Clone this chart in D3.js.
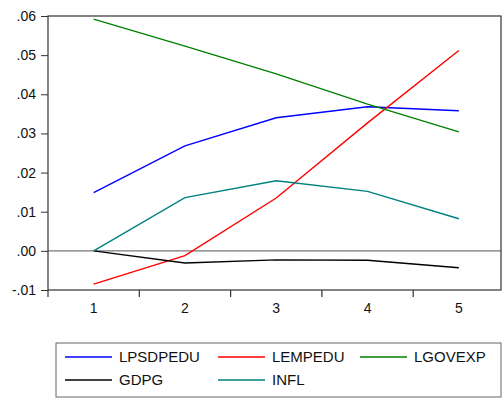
<!DOCTYPE html>
<html>
<head>
<meta charset="utf-8">
<script src="https://cdn.jsdelivr.net/npm/d3@7"></script>
<style>
  body { margin: 0; background: #fff; }
  svg { display: block; font-family: Arial, "Liberation Sans", sans-serif; }
</style>
</head>
<body>
<div id="chart"></div>
<script>
// periods and series
const periods = [1, 2, 3, 4, 5];
const lpsdpedu = [0.0149, 0.0268, 0.0340, 0.0368, 0.0358];
const lempedu = [-0.0085, -0.0012, 0.0135, 0.0327, 0.0512];
const lgovexp = [0.0592, 0.0523, 0.0452, 0.0375, 0.0304];
const gdpg = [0.0000, -0.0031, -0.0023, -0.0024, -0.0043];
const infl = [0.0000, 0.0136, 0.0179, 0.0152, 0.0082];
const yTicks = [-0.01, 0.00, 0.01, 0.02, 0.03, 0.04, 0.05, 0.06];

const series = [
    { name: "LPSDPEDU", values: lpsdpedu, color: "#0000ff" },
    { name: "LEMPEDU", values: lempedu, color: "#ff0000" },
    { name: "LGOVEXP", values: lgovexp, color: "#008000" },
    { name: "GDPG", values: gdpg, color: "#000000" },
    { name: "INFL", values: infl, color: "#008080" }
];

const width = 502, height = 398;
const plot = { left: 48, top: 16, right: 501, bottom: 290 };

const svg = d3.select("#chart").append("svg")
    .attr("width", width)
    .attr("height", height);

const x = d3.scaleLinear().domain([0.5, 5.5]).range([plot.left, 504.5]);
const y = d3.scaleLinear().domain([-0.01, 0.06]).range([plot.bottom, plot.top]);

// zero line
svg.append("line")
    .attr("x1", plot.left).attr("x2", plot.right)
    .attr("y1", y(0)).attr("y2", y(0))
    .attr("stroke", "#777").attr("stroke-width", 1.2);

// frame
svg.append("rect")
    .attr("x", plot.left).attr("y", plot.top)
    .attr("width", plot.right - plot.left)
    .attr("height", plot.bottom - plot.top)
    .attr("fill", "none")
    .attr("stroke", "#333").attr("stroke-width", 1.2);

// y axis
const fmt = v => {
    const s = d3.format(".2f")(Math.abs(v)).replace(/^0/, "");
    return (v < 0 ? "-" : "") + s;
};
const yAxis = svg.append("g")
    .attr("transform", `translate(${plot.left},0)`)
    .call(d3.axisLeft(y).tickValues(yTicks).tickFormat(fmt).tickSize(7).tickPadding(5));
yAxis.select(".domain").remove();
yAxis.selectAll("line").attr("stroke", "#333");
yAxis.selectAll("text").style("font-size", "14px").attr("fill", "#111");

// x axis: ticks between periods, labels centered on periods
const xAxis = svg.append("g")
    .attr("transform", `translate(0,${plot.bottom})`);
xAxis.selectAll("line")
    .data([0.5, 1.5, 2.5, 3.5, 4.5])
    .join("line")
    .attr("x1", d => x(d)).attr("x2", d => x(d))
    .attr("y1", 0).attr("y2", 7)
    .attr("stroke", "#333").attr("stroke-width", 1.2);
xAxis.selectAll("text")
    .data(periods)
    .join("text")
    .attr("x", d => x(d))
    .attr("y", 23)
    .attr("text-anchor", "middle")
    .style("font-size", "14px")
    .attr("fill", "#111")
    .text(d => d);

// lines
const line = d3.line()
    .x((d, i) => x(periods[i]))
    .y(d => y(d));

svg.append("g")
    .selectAll("path")
    .data(series)
    .join("path")
    .attr("d", d => line(d.values))
    .attr("fill", "none")
    .attr("stroke", d => d.color)
    .attr("stroke-width", 1.4);

// legend
const legend = svg.append("g");
legend.append("rect")
    .attr("x", 56).attr("y", 343)
    .attr("width", 445).attr("height", 54)
    .attr("fill", "#fff")
    .attr("stroke", "#666").attr("stroke-width", 1);

const cols = [65, 218, 360];
const rows = [357, 380];
const item = legend.selectAll("g.item")
    .data(series)
    .join("g")
    .attr("class", "item")
    .attr("transform", (d, i) => `translate(${cols[i % 3]},${rows[Math.floor(i / 3)]})`);
item.append("line")
    .attr("x1", 0).attr("x2", 47)
    .attr("stroke", d => d.color).attr("stroke-width", 1.4);
item.append("text")
    .attr("x", 54).attr("dy", "0.36em")
    .style("font-size", "15px")
    .attr("fill", "#111")
    .text(d => d.name);
</script>
</body>
</html>
